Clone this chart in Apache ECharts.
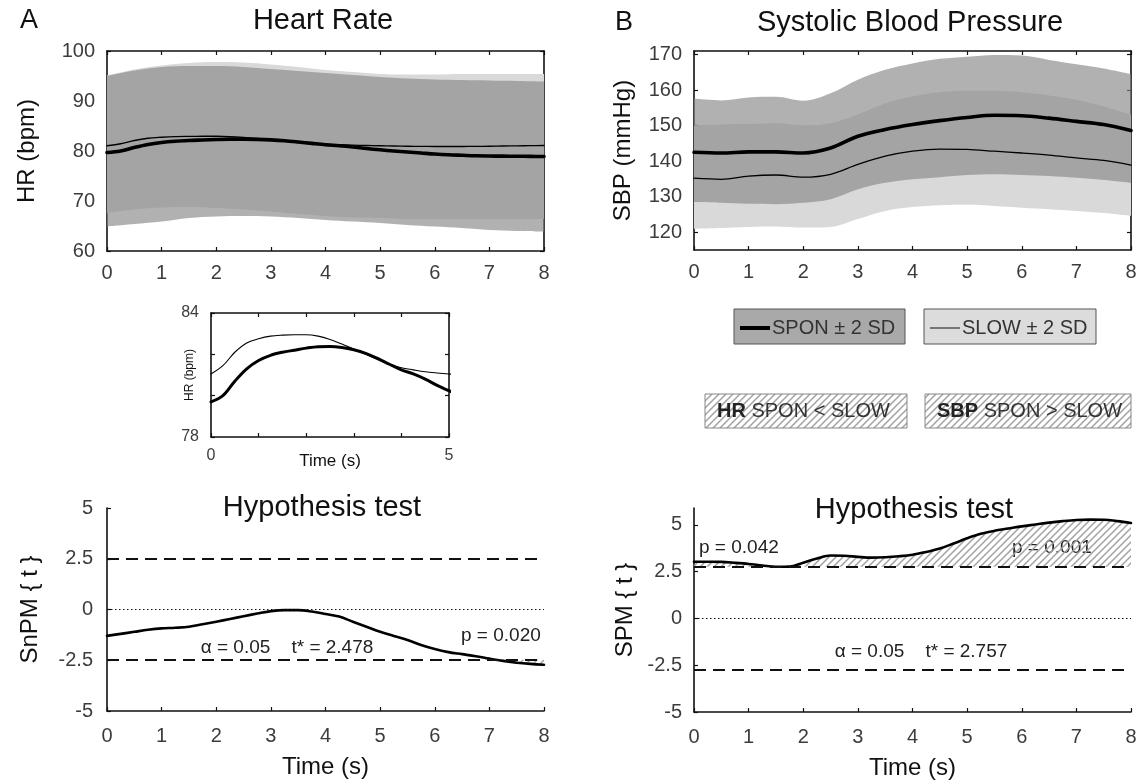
<!DOCTYPE html>
<html>
<head>
<meta charset="utf-8">
<title>Heart Rate and Systolic Blood Pressure – SPON vs SLOW</title>
<script src="https://cdn.jsdelivr.net/npm/echarts@6/dist/echarts.min.js"></script>
<style>
  html, body { margin: 0; padding: 0; background: #fff; }
  #chart { width: 1142px; height: 784px; }
</style>
</head>
<body>
<div id="chart"></div>
<script>
// ---------------------------------------------------------------
// Data
// ---------------------------------------------------------------
// fine time grid (s) used for the mean curves and test statistics
const timeQ = [0, 0.25, 0.5, 0.75, 1, 1.25, 1.5, 1.75, 2, 2.25, 2.5, 2.75, 3, 3.25, 3.5, 3.75,
               4, 4.25, 4.5, 4.75, 5, 5.25, 5.5, 5.75, 6, 6.25, 6.5, 6.75, 7, 7.25, 7.5, 7.75, 8];
// coarse, evenly spaced time grid (s) used for the ±2 SD envelopes
const timeH = [0, 0.5, 1, 1.5, 2, 2.5, 3, 3.5, 4, 4.5, 5, 5.5, 6, 6.5, 7, 7.5, 8];

// Heart rate (bpm): group means
const hrSpon = [79.7, 80.0, 80.7, 81.3, 81.7, 81.95, 82.1, 82.2, 82.3, 82.37, 82.38, 82.33, 82.22, 82.05, 81.8, 81.52,
                81.25, 81.05, 80.8, 80.5, 80.24, 80.0, 79.8, 79.6, 79.4, 79.25, 79.15, 79.05, 79.0, 78.97, 78.95, 78.92, 78.9];
const hrSlow = [81.05, 81.45, 82.1, 82.55, 82.75, 82.88, 82.93, 82.95, 82.95, 82.88, 82.72, 82.5, 82.25, 82.0, 81.75, 81.52,
                81.35, 81.25, 81.16, 81.1, 81.05, 81.0, 80.95, 80.92, 80.9, 80.9, 80.9, 80.92, 80.95, 81.0, 81.03, 81.07, 81.1];
// Heart rate (bpm): mean ± 2 SD envelopes
const hrSponUpper = [95.0, 96.1, 96.8, 97.0, 97.0, 96.8, 96.4, 96.0, 95.6, 95.2, 94.8, 94.5, 94.3, 94.2, 94.1, 94.0, 93.9];
const hrSponLower = [64.9, 65.4, 65.9, 66.6, 66.9, 67.0, 66.9, 66.6, 66.2, 65.9, 65.6, 65.2, 64.9, 64.6, 64.2, 64.0, 63.9];
const hrSlowUpper = [95.1, 96.3, 97.1, 97.6, 97.8, 97.7, 97.3, 96.8, 96.2, 95.8, 95.4, 95.3, 95.3, 95.4, 95.4, 95.4, 95.4];
const hrSlowLower = [67.6, 68.3, 68.7, 68.8, 68.6, 68.3, 67.9, 67.4, 67.0, 66.7, 66.6, 66.4, 66.4, 66.4, 66.4, 66.4, 66.4];

// Systolic blood pressure (mmHg): group means
const sbpSpon = [142.5, 142.3, 142.6, 142.6, 142.3, 143.7, 147.0, 148.9, 150.3, 151.4, 152.3, 152.9, 152.8, 152.1, 151.2, 150.3, 148.6];
const sbpSlow = [135.2, 134.9, 135.8, 136.1, 135.5, 136.3, 139.1, 141.4, 142.8, 143.4, 143.3, 142.8, 142.3, 141.7, 140.9, 140.2, 138.9];
// Systolic blood pressure (mmHg): mean ± 2 SD envelopes
const sbpSponUpper = [157.6, 157.1, 157.9, 158.1, 157.0, 159.1, 162.9, 165.7, 167.5, 168.8, 169.4, 169.9, 169.7, 168.5, 167.3, 166.1, 164.5];
const sbpSponLower = [128.5, 128.3, 128.0, 127.9, 128.3, 129.3, 132.1, 133.9, 134.9, 135.5, 136.1, 136.3, 136.1, 135.8, 135.3, 134.7, 133.9];
const sbpSlowUpper = [150.1, 150.3, 150.5, 150.7, 150.1, 150.7, 153.1, 156.3, 158.2, 159.4, 159.8, 159.8, 159.4, 158.5, 157.3, 155.4, 153.1];
const sbpSlowLower = [121.0, 121.2, 121.5, 121.6, 121.3, 121.5, 123.7, 126.0, 127.1, 127.6, 127.7, 127.4, 126.9, 126.5, 126.0, 125.4, 124.6];

// Hypothesis tests: test statistic trajectories and critical thresholds
const hrSnpmT = [-1.3, -1.2, -1.1, -1.0, -0.93, -0.9, -0.85, -0.73, -0.6, -0.47, -0.33, -0.2, -0.08, -0.03, -0.03, -0.1,
                 -0.22, -0.35, -0.6, -0.85, -1.1, -1.3, -1.5, -1.75, -1.95, -2.1, -2.2, -2.3, -2.42, -2.53, -2.62, -2.68, -2.72];
const sbpSpmT = [3.03, 3.03, 3.02, 2.97, 2.91, 2.83, 2.76, 2.77, 2.98, 3.2, 3.36, 3.35, 3.29, 3.25, 3.27, 3.32,
                 3.40, 3.55, 3.73, 4.0, 4.28, 4.52, 4.68, 4.8, 4.92, 5.02, 5.12, 5.2, 5.26, 5.28, 5.27, 5.2, 5.1];
const hrTStar = 2.478;
const sbpTStar = 2.757;
const alpha = 0.05;
const hrClusterP = ['0.020'];
const sbpClusterP = ['0.042', '0.001'];

// Tick labels
const hrTicks = [60, 70, 80, 90, 100];
const sbpTicks = [120, 130, 140, 150, 160, 170];
const testTicks = [-5, -2.5, 0, 2.5, 5];
const insetXLabels = [0, 5];
const insetYLabels = [78, 84];

// ---------------------------------------------------------------
// Styling helpers
// ---------------------------------------------------------------
const FONT = '"Liberation Sans", Arial, Helvetica, sans-serif';
const INK = '#111';
const TICK_INK = '#3c3c3c';
const SLOW_FILL = '#d9d9d9';
const SPON_FILL = 'rgba(135,135,135,0.65)';

const pairs = (ts, vs) => ts.map((t, i) => [t, vs[i]]);

function makeHatch() {
  const s = 7;
  const c = document.createElement('canvas');
  c.width = s; c.height = s;
  const g = c.getContext('2d');
  g.strokeStyle = '#a2a2a2';
  g.lineWidth = 1.5;
  g.beginPath();
  g.moveTo(0, s); g.lineTo(s, 0);
  g.moveTo(-1, 1); g.lineTo(1, -1);
  g.moveTo(s - 1, s + 1); g.lineTo(s + 1, s - 1);
  g.stroke();
  return c;
}
const hatchImg = makeHatch();
const hatchFill = () => ({ image: hatchImg, repeat: 'repeat' });

const axisLineStyle = { color: INK, width: 1.6 };
const tickStyle = { inside: true, length: 4, lineStyle: { color: INK, width: 1.2 } };
const labelStyle = (extra) => Object.assign({ fontSize: 20, color: TICK_INK, fontFamily: FONT }, extra || {});

const xAxes = [];
const yAxes = [];

// framed panel: axes on all four sides, ticks pointing inward
function framedAxes(grid, x, y, withEnvelopes) {
  const xi = xAxes.length, yi = yAxes.length;
  const xBase = { type: 'value', gridIndex: grid, min: x.min, max: x.max, interval: x.interval,
    splitLine: { show: false }, axisLine: { onZero: false, lineStyle: axisLineStyle } };
  xAxes.push(Object.assign({}, xBase, {
    position: 'bottom', axisTick: tickStyle,
    axisLabel: labelStyle(Object.assign({ margin: x.margin, showMinLabel: true, showMaxLabel: true }, x.label || {})),
    name: x.name || '', nameLocation: 'middle', nameGap: x.nameGap || 30, nameMoveOverlap: false,
    nameTextStyle: { fontSize: x.nameSize || 24, color: INK, fontFamily: FONT }
  }));
  xAxes.push(Object.assign({}, xBase, { position: 'top', axisTick: tickStyle, axisLabel: { show: false } }));
  let ci = null;
  if (withEnvelopes) {
    // evenly spaced sample axis for the envelopes (same pixel span as the time axis)
    ci = xAxes.length;
    xAxes.push({ type: 'category', gridIndex: grid, data: timeH.map(String), boundaryGap: false, show: false });
  }
  const yBase = { type: 'value', gridIndex: grid, min: y.min, max: y.max,
    splitLine: { show: false }, axisLine: { onZero: false, lineStyle: axisLineStyle } };
  if (y.interval) yBase.interval = y.interval;
  const tick = Object.assign({}, tickStyle, y.ticks ? { customValues: y.ticks } : {});
  yAxes.push(Object.assign({}, yBase, {
    position: 'left', axisTick: tick,
    axisLabel: labelStyle(Object.assign({ margin: y.margin, showMinLabel: true, showMaxLabel: true },
      y.ticks ? { customValues: y.ticks } : {}, y.label || {})),
    name: y.name || '', nameLocation: 'middle', nameGap: y.nameGap || 40, nameMoveOverlap: false,
    nameTextStyle: { fontSize: y.nameSize || 24, color: INK, fontFamily: FONT }
  }));
  yAxes.push(Object.assign({}, yBase, { position: 'right', axisTick: tick, axisLabel: { show: false } }));
  return { x: xi, y: yi, c: ci };
}

// open panel: left and bottom axes only
function openAxes(grid, x, y) {
  const xi = xAxes.length, yi = yAxes.length;
  xAxes.push({ type: 'value', gridIndex: grid, min: x.min, max: x.max, interval: x.interval, position: 'bottom',
    splitLine: { show: false }, axisLine: { onZero: false, lineStyle: axisLineStyle }, axisTick: tickStyle,
    axisLabel: labelStyle({ margin: x.margin, showMinLabel: true, showMaxLabel: true }),
    name: x.name, nameLocation: 'middle', nameGap: x.nameGap, nameMoveOverlap: false,
    nameTextStyle: { fontSize: 24, color: INK, fontFamily: FONT } });
  const yAx = { type: 'value', gridIndex: grid, min: y.min, max: y.max, position: 'left',
    splitLine: { show: false }, axisLine: { onZero: false, lineStyle: axisLineStyle },
    axisTick: Object.assign({}, tickStyle, y.ticks ? { customValues: y.ticks } : {}),
    axisLabel: labelStyle(Object.assign({ margin: y.margin, showMinLabel: true, showMaxLabel: true },
      y.ticks ? { customValues: y.ticks } : {})),
    name: y.name, nameLocation: 'middle', nameGap: y.nameGap, nameMoveOverlap: false,
    nameTextStyle: Object.assign({ fontSize: 24, color: INK, fontFamily: FONT }, y.nameStyle || {}) };
  if (y.interval) yAx.interval = y.interval;
  yAxes.push(yAx);
  return { x: xi, y: yi };
}

// ±2 SD envelope drawn as a stacked area between lower and upper bounds
function band(id, ax, lower, upper, color) {
  return [
    { type: 'line', id: id + '-base', xAxisIndex: ax.c, yAxisIndex: ax.y, stack: id, silent: true,
      data: lower.slice(), symbol: 'none', smooth: 0.35, lineStyle: { width: 0, opacity: 0 } },
    { type: 'line', id: id + '-span', xAxisIndex: ax.c, yAxisIndex: ax.y, stack: id, silent: true,
      data: upper.map((u, i) => +(u - lower[i]).toFixed(3)), symbol: 'none', smooth: 0.35,
      lineStyle: { width: 0, opacity: 0 }, areaStyle: { color: color, opacity: 1 } }
  ];
}

function meanLine(id, ax, ts, vs, width) {
  return { type: 'line', id: id, xAxisIndex: ax.x, yAxisIndex: ax.y, silent: true,
    data: pairs(ts, vs), symbol: 'none', smooth: 0.35,
    lineStyle: { color: '#000', width: width, cap: 'round', join: 'round' } };
}

const dashed = { type: [12, 7], width: 2, color: INK };
const dotted = { type: [1.5, 2.5], width: 1.2, color: INK };

function testSeries(id, ax, vs, tStar, clusterAbove) {
  const clipped = clusterAbove ? vs.map(v => Math.max(v, tStar)) : vs.map(v => Math.min(v, -tStar));
  return [
    { type: 'line', id: id + '-cluster', xAxisIndex: ax.x, yAxisIndex: ax.y, silent: true,
      data: pairs(timeQ, clipped), symbol: 'none', smooth: 0.35, lineStyle: { width: 0, opacity: 0 },
      areaStyle: { color: hatchFill(), opacity: 1, origin: clusterAbove ? tStar : -tStar } },
    { type: 'line', id: id, xAxisIndex: ax.x, yAxisIndex: ax.y, silent: true,
      data: pairs(timeQ, vs), symbol: 'none', smooth: 0.35,
      lineStyle: { color: '#000', width: 2.6, cap: 'round', join: 'round' },
      markLine: { silent: true, symbol: ['none', 'none'], label: { show: false },
        data: [ { yAxis: tStar, lineStyle: dashed }, { yAxis: -tStar, lineStyle: dashed }, { yAxis: 0, lineStyle: dotted } ] } }
  ];
}

// ---------------------------------------------------------------
// Panels
// ---------------------------------------------------------------
const grids = [
  { left: 107, top: 51, width: 437, height: 200 },   // A: heart rate
  { left: 211, top: 313, width: 238, height: 124 },  // A: heart rate, first 5 s
  { left: 694, top: 51, width: 437, height: 199 },   // B: systolic blood pressure
  { left: 107, top: 508, width: 437, height: 203 },  // A: hypothesis test
  { left: 694, top: 508, width: 437, height: 204 }   // B: hypothesis test
].map(g => Object.assign({ containLabel: false, outerBoundsMode: 'none' }, g));

const axHR = framedAxes(0,
  { min: 0, max: 8, interval: 1, margin: 12 },
  { min: hrTicks[0], max: hrTicks[hrTicks.length - 1], interval: 10, margin: 12, name: 'HR (bpm)', nameGap: 68 },
  true);

const axInset = framedAxes(1,
  { min: 0, max: 5, interval: 1, margin: 11, name: 'Time (s)', nameGap: 16, nameSize: 17,
    label: { fontSize: 16, formatter: v => insetXLabels.includes(v) ? String(v) : '' } },
  { min: 78, max: 84, interval: 2, margin: 12, name: 'HR (bpm)', nameGap: 15, nameSize: 12,
    label: { fontSize: 16, formatter: v => insetYLabels.includes(v) ? String(v) : '' } },
  false);

const axSBP = framedAxes(2,
  { min: 0, max: 8, interval: 1, margin: 12 },
  { min: 115, max: 171, ticks: sbpTicks, margin: 12, name: 'SBP (mmHg)', nameGap: 59 },
  true);

const axHRT = openAxes(3,
  { min: 0, max: 8, interval: 1, margin: 15, name: 'Time (s)', nameGap: 44 },
  { min: -5, max: 5, interval: 2.5, margin: 14, name: 'SnPM { t }', nameGap: 65 });

const axSBPT = openAxes(4,
  { min: 0, max: 8, interval: 1, margin: 15, name: 'Time (s)', nameGap: 44 },
  { min: -5, max: 5.9, ticks: testTicks, margin: 12, name: 'SPM { t }', nameGap: 57 });

const series = [].concat(
  // heart rate
  band('hrSlowBand', axHR, hrSlowLower, hrSlowUpper, SLOW_FILL),
  band('hrSponBand', axHR, hrSponLower, hrSponUpper, SPON_FILL),
  [meanLine('hrSlow', axHR, timeQ, hrSlow, 1.3), meanLine('hrSpon', axHR, timeQ, hrSpon, 3.6)],
  // heart rate, first five seconds
  [meanLine('hrSlowInset', axInset, timeQ, hrSlow, 1.1), meanLine('hrSponInset', axInset, timeQ, hrSpon, 3)],
  // systolic blood pressure
  band('sbpSlowBand', axSBP, sbpSlowLower, sbpSlowUpper, SLOW_FILL),
  band('sbpSponBand', axSBP, sbpSponLower, sbpSponUpper, SPON_FILL),
  [meanLine('sbpSlow', axSBP, timeH, sbpSlow, 1.3), meanLine('sbpSpon', axSBP, timeH, sbpSpon, 3.6)],
  // hypothesis tests
  testSeries('hrTest', axHRT, hrSnpmT, hrTStar, false),
  testSeries('sbpTest', axSBPT, sbpSpmT, sbpTStar, true)
);

// ---------------------------------------------------------------
// Free text: panel letters, titles, annotations, legend keys
// ---------------------------------------------------------------
function label(text, x, y, size, opts) {
  return Object.assign({ type: 'text', x: x, y: y, silent: true,
    style: Object.assign({ text: text, fontSize: size, fontFamily: FONT, fill: INK,
      align: 'center', verticalAlign: 'middle' }, (opts && opts.style) || {}) },
    opts && opts.el ? opts.el : {});
}

const graphics = [
  label('A', 29, 21, 27),
  label('B', 624, 23, 27),
  label('Heart Rate', 323, 21, 29),
  label('Systolic Blood Pressure', 910, 23, 29),
  label('Hypothesis test', 322, 508, 29),
  label('Hypothesis test', 914, 510, 29),
  label('\u03b1 = ' + alpha.toFixed(2) + '    t* = ' + hrTStar.toFixed(3), 287, 648, 19, { style: { fill: '#222' } }),
  label('p = ' + hrClusterP[0], 461, 636, 19, { style: { align: 'left', fill: '#222' } }),
  label('p = ' + sbpClusterP[0], 699, 548, 19, { style: { align: 'left', fill: '#222' } }),
  label('p = ' + sbpClusterP[1], 1012, 548, 19, { style: { align: 'left', fill: '#222' } }),
  label('\u03b1 = ' + alpha.toFixed(2) + '    t* = ' + sbpTStar.toFixed(3), 921, 652, 19, { style: { fill: '#222' } }),

  // legend: group envelopes
  { type: 'rect', silent: true, shape: { x: 734, y: 309, width: 171, height: 35 },
    style: { fill: '#a9a9a9', stroke: '#555', lineWidth: 1 } },
  { type: 'line', silent: true, shape: { x1: 740, y1: 328, x2: 770, y2: 328 }, style: { stroke: '#000', lineWidth: 4 } },
  label('SPON \u00b1 2 SD', 772, 328, 20, { style: { align: 'left', fill: '#333' } }),
  { type: 'rect', silent: true, shape: { x: 924, y: 309, width: 172, height: 35 },
    style: { fill: '#dcdcdc', stroke: '#555', lineWidth: 1 } },
  { type: 'line', silent: true, shape: { x1: 930, y1: 328, x2: 960, y2: 328 }, style: { stroke: '#333', lineWidth: 1.2 } },
  label('SLOW \u00b1 2 SD', 962, 328, 20, { style: { align: 'left', fill: '#333' } }),

  // legend: significant clusters
  { type: 'rect', silent: true, shape: { x: 705, y: 394, width: 202, height: 34 },
    style: { fill: hatchFill(), stroke: '#888', lineWidth: 1 } },
  label('{b|HR} SPON < SLOW', 717, 411, 20, { style: { align: 'left', fill: '#333',
    rich: { b: { fontWeight: 'bold', fontSize: 20, fontFamily: FONT, fill: '#222' } } } }),
  { type: 'rect', silent: true, shape: { x: 925, y: 394, width: 206, height: 34 },
    style: { fill: hatchFill(), stroke: '#888', lineWidth: 1 } },
  label('{b|SBP} SPON > SLOW', 937, 411, 20, { style: { align: 'left', fill: '#333',
    rich: { b: { fontWeight: 'bold', fontSize: 20, fontFamily: FONT, fill: '#222' } } } })
];

const chart = echarts.init(document.getElementById('chart'), null, { renderer: 'canvas' });
chart.setOption({
  animation: false,
  backgroundColor: '#fff',
  textStyle: { fontFamily: FONT },
  grid: grids,
  xAxis: xAxes,
  yAxis: yAxes,
  series: series,
  graphic: graphics
});
</script>
</body>
</html>
